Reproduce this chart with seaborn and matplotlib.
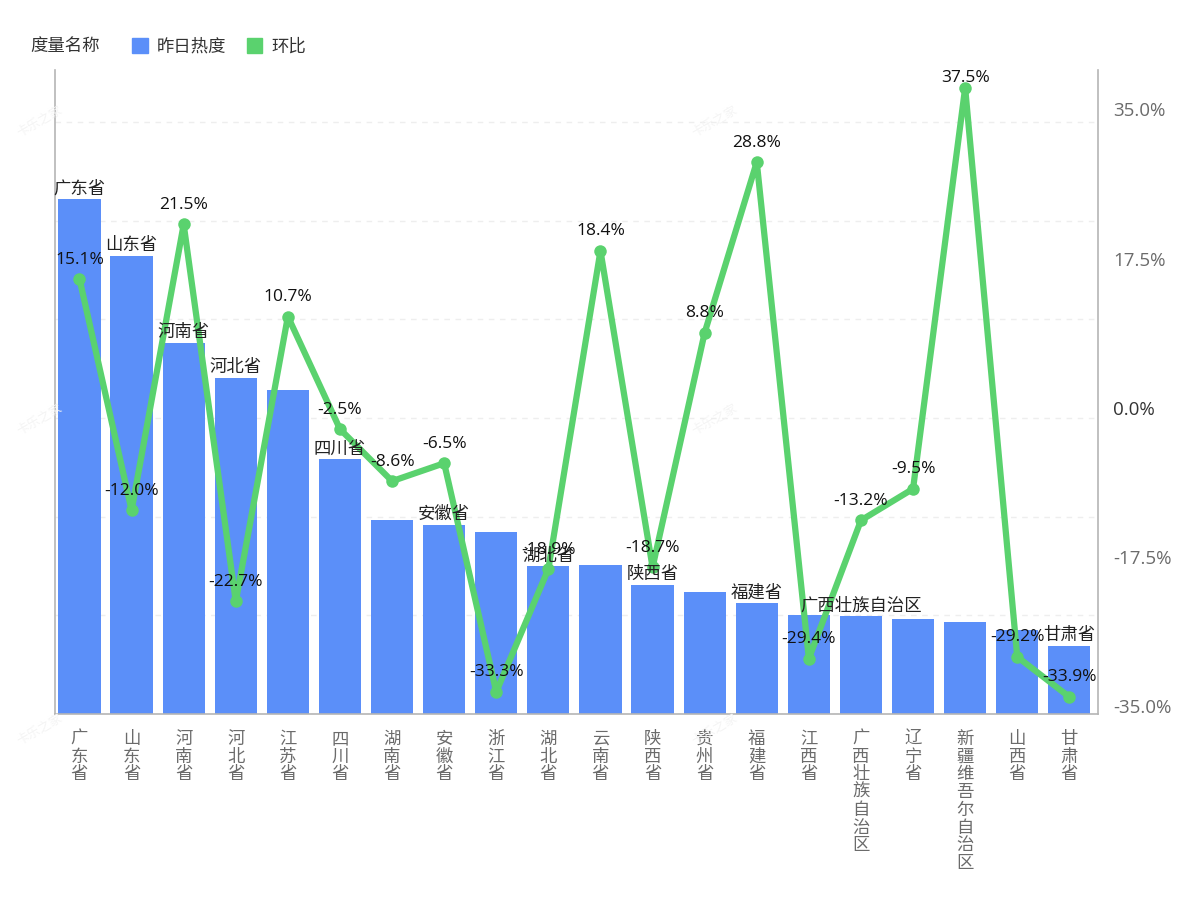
import matplotlib
matplotlib.use("Agg")
import matplotlib.pyplot as plt
import pandas as pd
import seaborn as sns

# data
provinces = ["广东省", "山东省", "河南省", "河北省", "江苏省", "四川省", "湖南省", "安徽省", "浙江省", "湖北省",
             "云南省", "陕西省", "贵州省", "福建省", "江西省", "广西壮族自治区", "辽宁省", "新疆维吾尔自治区", "山西省", "甘肃省"]
heat = [5.22, 4.64, 3.76, 3.41, 3.28, 2.58, 1.97, 1.92, 1.84, 1.50,
        1.51, 1.31, 1.24, 1.12, 1.00, 0.99, 0.96, 0.93, 0.85, 0.69]
change = [15.1, -12.0, 21.5, -22.7, 10.7, -2.5, -8.6, -6.5, -33.3, -18.9,
          18.4, -18.7, 8.8, 28.8, -29.4, -13.2, -9.5, 37.5, -29.2, -33.9]
labeled_bars = ["广东省", "山东省", "河南省", "河北省", "四川省", "安徽省", "湖北省", "陕西省", "福建省", "广西壮族自治区", "甘肃省"]
right_ticks = [-35.0, -17.5, 0.0, 17.5, 35.0]
left_ticks = [0, 1, 2, 3, 4, 5, 6]

BLUE = "#5b8ff9"
GREEN = "#5ad26e"

sns.set_theme(style="white")
plt.rcParams["font.family"] = ["Open Sans", "Noto Sans CJK SC", "DejaVu Sans"]

df = pd.DataFrame({"province": provinces, "heat": heat, "change": change})

fig = plt.figure(figsize=(12, 9), dpi=100)
ax = fig.add_axes([55 / 1200, 1 - 714 / 900, (1098 - 55) / 1200, (714 - 70) / 900])

sns.barplot(data=df, x="province", y="heat", color=BLUE, saturation=1, width=0.81, linewidth=0, ax=ax)
ax.set_xlim(-0.47, 19.55)
ax.set_ylim(0, 6.527)
ax.set_xlabel("")
ax.set_ylabel("")
ax.set_yticks(left_ticks)
ax.yaxis.grid(True, color="#eeeeee", linestyle=(0, (4, 4)), linewidth=1)
ax.set_axisbelow(True)
ax.set_xticks(range(len(provinces)))
ax.set_xticklabels(["\n".join(p) for p in provinces], fontsize=12.5, color="#6b6b6b", linespacing=0.98,
                   family=["Noto Sans CJK SC", "DejaVu Sans"])
ax.tick_params(axis="x", bottom=False, pad=5.5)
for s in ["left", "bottom"]:
    ax.spines[s].set_color("#b5b5b5")
    ax.spines[s].set_linewidth(1.2)
ax.spines["top"].set_visible(False)
ax.spines["right"].set_visible(False)

# line on the right hand axis
ax2 = ax.twinx()
ax.tick_params(axis="y", left=False, labelleft=False)
sns.lineplot(data=df, x="province", y="change", sort=False, color=GREEN, linewidth=4.5, marker="o",
             markersize=9, markeredgewidth=0, errorbar=None, ax=ax2)
ax2.set_ylim(-35.9, 39.6)
ax2.set_ylabel("")
ax2.set_xlabel("")
ax2.set_yticks(right_ticks)
ax2.set_yticklabels([f"{t:.1f}%" for t in right_ticks], fontsize=13.5, color="#6b6b6b")
ax2.get_yticklabels()[2].set_color("#333333")
ax2.tick_params(axis="y", right=False, pad=5)
ax2.grid(False)
for s in ["left", "top", "bottom"]:
    ax2.spines[s].set_visible(False)
ax2.spines["right"].set_color("#b5b5b5")
ax2.spines["right"].set_linewidth(1.2)

# labels
for i, p in enumerate(provinces):
    if p in labeled_bars:
        ax2.annotate(p, xy=(i, heat[i]), xycoords=ax.transData, xytext=(0, 7), textcoords="offset points",
                     ha="center", va="center", fontsize=12.5, color="#222222", annotation_clip=False)
    off = 7 if change[i] > 37 else 14
    ax2.annotate(f"{change[i]:.1f}%", xy=(i, change[i]), xytext=(0, off), textcoords="offset points",
                 ha="center", va="center", fontsize=12.5, color="#111111", annotation_clip=False)

# watermark
for wx in [40, 715]:
    for wy in [122, 420, 730]:
        fig.text(wx / 1200, 1 - wy / 900, "卡乐之家", fontsize=9, color="#f4f4f4", rotation=30,
                 ha="center", va="center")

# legend
fig.text(30 / 1200, 1 - 47 / 900, "度量名称", fontsize=12.5, color="#333333", ha="left", va="center")
handles = [plt.Rectangle((0, 0), 1, 1, color=BLUE), plt.Rectangle((0, 0), 1, 1, color=GREEN)]
fig.legend(handles, ["昨日热度", "环比"], loc="center left", bbox_to_anchor=(132 / 1200, 1 - 47 / 900), ncols=2,
           frameon=False, fontsize=12.5, handlelength=0.9, handleheight=0.9, handletextpad=0.5, columnspacing=1.2,
           borderpad=0, borderaxespad=0, labelcolor="#333333")

fig.savefig("out.png", dpi=100)
